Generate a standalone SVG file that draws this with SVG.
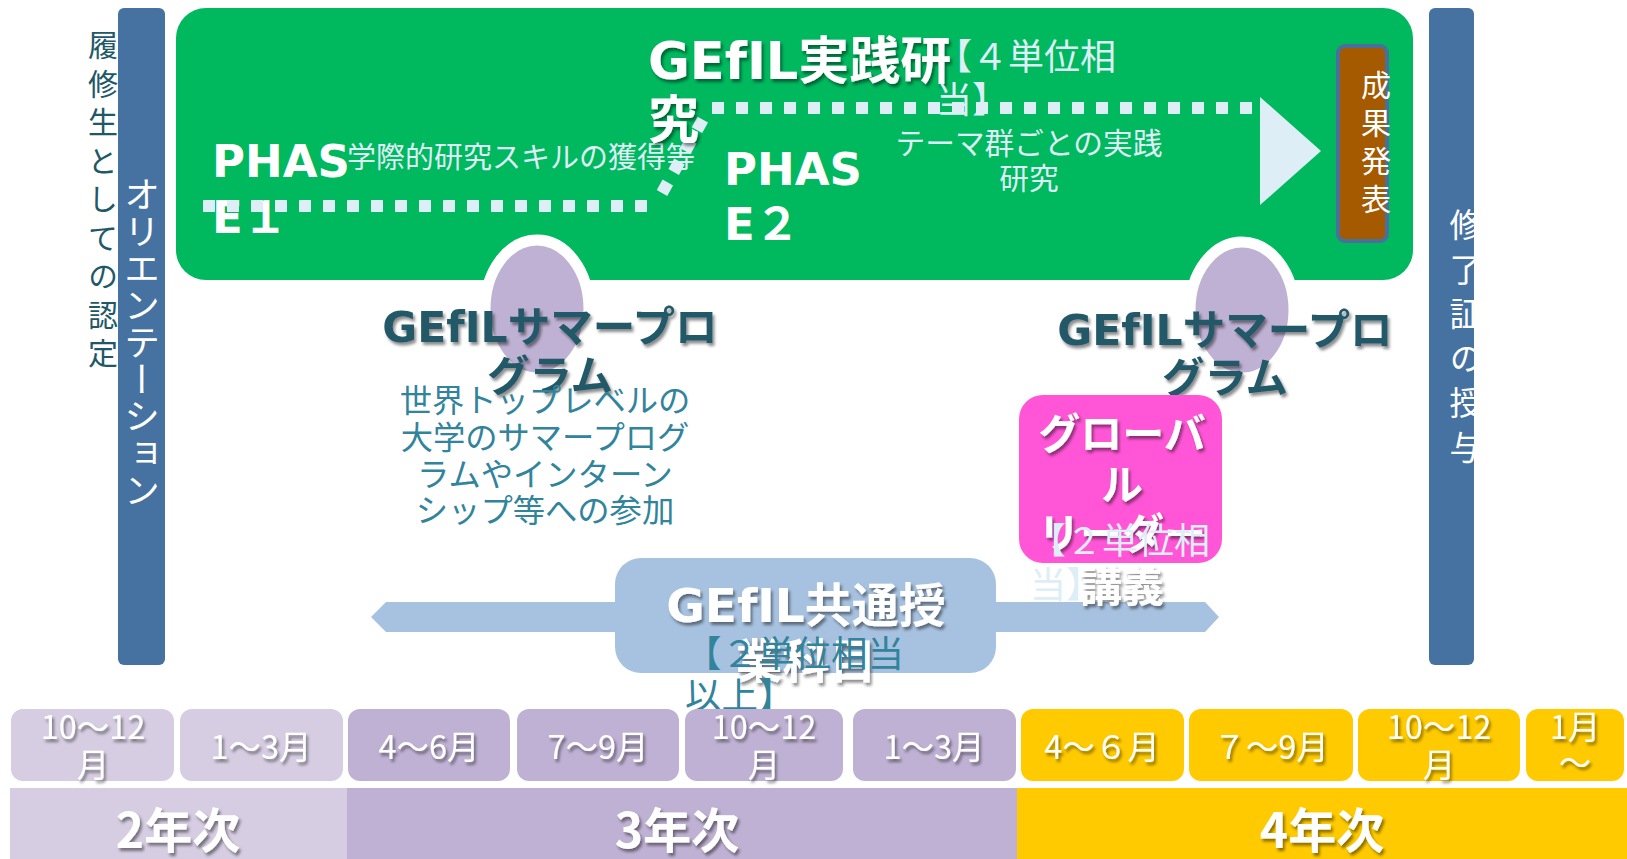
<svg xmlns="http://www.w3.org/2000/svg" width="1627" height="859" viewBox="0 0 1627 859">
<defs>
<style>
.jp{font-family:"Noto Sans CJK JP","Noto Sans",sans-serif}
.bold{font-family:"DejaVu Sans","Noto Sans CJK JP",sans-serif;font-weight:bold}
.wt{fill:#FFFFFF}
.lt{fill:#DEEEF6}
.dk{fill:#215868}
.tl{fill:#31849B}
.vert{writing-mode:vertical-rl;font-family:"Noto Sans CJK JP",sans-serif}
.dot{stroke:#DEEEF6;stroke-width:12;fill:none;stroke-dasharray:12 12}
.mon{font-family:"Noto Sans CJK JP",sans-serif;font-size:32.5px;fill:#FFFFFF;text-anchor:middle}
.yr{font-family:"Noto Sans CJK JP",sans-serif;font-weight:bold;font-size:48px;fill:#FFFFFF;text-anchor:middle}
.m2{fill:#D6CDE2}
.m3{fill:#BFB1D3}
.m4{fill:#FFCA00}
</style>
<filter id="sh" x="-10%" y="-20%" width="130%" height="150%">
<feDropShadow dx="2" dy="3" stdDeviation="1.5" flood-color="#000" flood-opacity="0.45"/>
</filter>
<clipPath id="rbclip"><rect x="1429" y="8" width="45" height="657" rx="6"/></clipPath>
</defs>
<rect width="1627" height="859" fill="#FFFFFF"/>

<g id="ninteitext">
<text class="vert dk" x="103" y="30" font-size="30" letter-spacing="8.5">履修生としての認定</text>
</g>

<g id="orientation">
<rect x="118" y="8" width="47" height="657" rx="6" fill="#4672A1"/>
<text class="vert wt" x="142" y="176" font-size="36" letter-spacing="1">オリエンテーション</text>
</g>

<g id="shuryo">
<rect x="1429" y="8" width="45" height="657" rx="6" fill="#4672A1"/>
<g clip-path="url(#rbclip)">
<text class="vert wt" x="1466" y="208" font-size="33" letter-spacing="11.5">修了証の授与</text>
</g>
</g>

<g id="jissen">
<rect x="176" y="8" width="1237" height="272" rx="30" fill="#00B85E"/>
<polygon points="1260,97 1321,151 1260,205" fill="#DEEEF6"/>
<text class="jp lt" x="347" y="168" font-size="29">学際的研究スキルの獲得等</text>
<text class="jp lt" x="1029" y="154" font-size="29.7" text-anchor="middle">テーマ群ごとの実践</text>
<text class="jp lt" x="1029" y="189" font-size="29.7" text-anchor="middle">研究</text>
<text class="bold wt" x="212" y="177" font-size="45">PHAS</text>
<text class="bold wt" x="212" y="233" font-size="45">E１</text>
<text class="bold wt" x="724" y="185" font-size="45">PHAS</text>
<text class="bold wt" x="724" y="240" font-size="45">E２</text>
</g>

<g id="connectors">
<line class="dot" x1="203" y1="206" x2="650" y2="206"/>
<line class="dot" x1="662" y1="193" x2="707" y2="112"/>
<line class="dot" x1="712" y1="108" x2="1254" y2="108"/>
</g>

<g id="jissen-title">
<text class="bold wt" x="648" y="79" font-size="51" filter="url(#sh)">GEfIL実践研</text>
<text class="bold wt" x="648" y="138" font-size="51" filter="url(#sh)">究</text>
<text class="jp lt" x="936" y="70" font-size="36">【４単位相</text>
<text class="jp lt" x="936" y="113" font-size="36">当】</text>
</g>

<g id="seika">
<rect x="1338" y="46" width="49" height="195" rx="7" fill="#A65A00" stroke="#4A6F9C" stroke-width="4"/>
<text class="vert wt" x="1376" y="70" font-size="30" letter-spacing="8">成果発表</text>
</g>

<g id="summer1">
<ellipse cx="537" cy="309" rx="52" ry="69" fill="#BFB1D3" stroke="#FFFFFF" stroke-width="11"/>
<text class="bold dk" x="550" y="342" font-size="42.5" text-anchor="middle" filter="url(#sh)">GEfILサマープロ</text>
<text class="bold dk" x="550" y="391" font-size="42.5" text-anchor="middle" filter="url(#sh)">グラム</text>
<g class="jp tl" font-size="32.3" text-anchor="middle">
<text x="545" y="412">世界トップレベルの</text>
<text x="545" y="449">大学のサマープログ</text>
<text x="545" y="486">ラムやインターン</text>
<text x="545" y="522">シップ等への参加</text>
</g>
</g>

<g id="summer2">
<ellipse cx="1242" cy="310" rx="52" ry="68" fill="#BFB1D3" stroke="#FFFFFF" stroke-width="11"/>
<text class="bold dk" x="1225" y="345" font-size="42.5" text-anchor="middle" filter="url(#sh)">GEfILサマープロ</text>
<text class="bold dk" x="1225" y="393" font-size="42.5" text-anchor="middle" filter="url(#sh)">グラム</text>
</g>

<g id="kyotsu">
<polygon points="371,617 386,602 1205,602 1219,617 1205,632 386,632" fill="#A7C2E0"/>
<rect x="615" y="558" width="381" height="115" rx="26" fill="#A7C2E0"/>
<text class="bold wt" x="806" y="622" font-size="47" text-anchor="middle" filter="url(#sh)">GEfIL共通授</text>
<text class="bold wt" x="806" y="678" font-size="47" text-anchor="middle" filter="url(#sh)">業科目</text>
<text class="jp tl" x="685" y="667" font-size="36.5">【２単位相当</text>
<text class="jp tl" x="685" y="709" font-size="36.5">以上】</text>
</g>

<g id="global">
<rect x="1019" y="395" width="203" height="168" rx="24" fill="#FF55D6"/>
<g class="bold wt" font-size="42" text-anchor="middle" filter="url(#sh)">
<text x="1122" y="449">グローバ</text>
<text x="1122" y="500">ル</text>
<text x="1122" y="549">リーダー</text>
<text x="1122" y="602">講義</text>
</g>
<text class="jp lt" x="1030" y="554" font-size="36">【２単位相</text>
<text class="jp lt" x="1030" y="598" font-size="36">当】</text>
</g>

<g id="months">
<rect class="m2" x="11" y="709" width="163" height="72" rx="12"/>
<rect class="m2" x="180" y="709" width="163" height="72" rx="12"/>
<rect class="m3" x="348" y="709" width="162" height="72" rx="12"/>
<rect class="m3" x="517" y="709" width="162" height="72" rx="12"/>
<rect class="m3" x="685" y="709" width="158" height="72" rx="12"/>
<rect class="m3" x="853" y="709" width="163" height="72" rx="12"/>
<rect class="m4" x="1021" y="709" width="163" height="72" rx="12"/>
<rect class="m4" x="1189" y="709" width="164" height="72" rx="12"/>
<rect class="m4" x="1358" y="709" width="162" height="72" rx="12"/>
<rect class="m4" x="1526" y="709" width="98" height="72" rx="12"/>
<g class="mon" filter="url(#sh)">
<text x="93" y="739">10～12</text>
<text x="93" y="777">月</text>
<text x="261" y="759">1～3月</text>
<text x="429" y="759">4～6月</text>
<text x="598" y="759">7～9月</text>
<text x="764" y="739">10～12</text>
<text x="764" y="777">月</text>
<text x="934" y="759">1～3月</text>
<text x="1102" y="759">4～６月</text>
<text x="1271" y="759">７～9月</text>
<text x="1439" y="739">10～12</text>
<text x="1439" y="777">月</text>
<text x="1575" y="739">1月</text>
<text x="1575" y="775">～</text>
</g>
</g>

<g id="years">
<rect x="10" y="788" width="337" height="71" fill="#D6CDE2"/>
<rect x="347" y="788" width="670" height="71" fill="#BFB1D3"/>
<rect x="1017" y="788" width="610" height="71" fill="#FFCA00"/>
<g class="yr" filter="url(#sh)">
<text x="178" y="848">2年次</text>
<text x="677" y="848">3年次</text>
<text x="1322" y="848">4年次</text>
</g>
</g>
</svg>
